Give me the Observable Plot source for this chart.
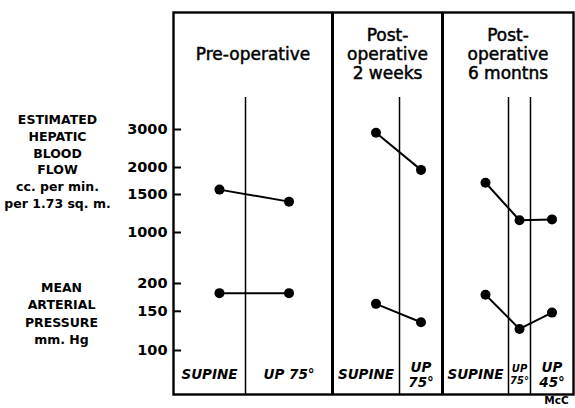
<!DOCTYPE html>
<html><head><meta charset="utf-8">
<script src="https://cdn.jsdelivr.net/npm/d3@7"></script>
<script src="https://cdn.jsdelivr.net/npm/@observablehq/plot@0.6"></script>
<style>
html,body{margin:0;padding:0;background:#fff;}
#chart{position:relative;width:575px;height:408px;}
#chart svg{position:absolute;left:0;top:0;}
</style></head><body><div id="chart"></div>
<script>
// ---- data ----
const conditions = ["Pre-operative", "Post-\noperative\n2 weeks", "Post-\noperative\n6 montns"];
const postures = ["SUPINE", "UP 75°", "SUPINE", "UP\n75°", "SUPINE", "UP\n75°", "UP\n45°"];
const postureCondition = [0, 0, 1, 1, 2, 2, 2];
const hepaticFlow = [1580, 1390, 2900, 1950, 1700, 1140, 1150];
const arterialPressure = [181, 181, 162, 134, 178, 125, 148];
const flowTicks = [1000, 1500, 2000, 3000];
const pressureTicks = [100, 150, 200];
const flowLabel = "ESTIMATED\nHEPATIC\nBLOOD\nFLOW\ncc. per min.\nper 1.73 sq. m.";
const pressureLabel = "MEAN\nARTERIAL\nPRESSURE\nmm. Hg";
const credit = "McC";

// ---- layout ----
const W = 575, H = 408;
const mL = 173, mR = 2, boxTop = 12, boxBottom = 394;
const colWidths = [72, 87, 67, 43, 66, 22, 43];
const inner = colWidths.reduce((a, b) => a + b, 0);
const colStart = colWidths.map((w, i) => colWidths.slice(0, i).reduce((a, b) => a + b, 0));
const colCenter = colStart.map((s, i) => s + colWidths[i] / 2);
const px = v => v - mL; // pixel x -> x units (1 unit = 1 px)
const sectionEdges = [], thinEdges = [];
for (let i = 1; i < colWidths.length; i++) {
  (postureCondition[i] !== postureCondition[i - 1] ? sectionEdges : thinEdges).push(colStart[i]);
}
const sectionCenter = conditions.map((c, k) => {
  const idx = postureCondition.map((p, i) => p === k ? i : -1).filter(i => i >= 0);
  const a = colStart[idx[0]], b = colStart[idx[idx.length - 1]] + colWidths[idx[idx.length - 1]];
  return (a + b) / 2;
});
const dotX = postures.map((p, i) => colCenter[i] + (p === "SUPINE" ? 10 : 0));
const records = postures.map((p, i) => ({cond: postureCondition[i], x: dotX[i], flow: hepaticFlow[i], pressure: arterialPressure[i]}));

const sans = "DejaVu Sans, sans-serif";
const common = {
  width: W, height: H, marginLeft: mL, marginRight: mR, marginTop: boxTop, marginBottom: H - boxBottom,
  x: {domain: [0, inner], axis: null}
};
const chart = document.getElementById("chart");

// base: frame, dividers, texts
const base = Plot.plot({
  ...common,
  y: {domain: [0, H], range: [0, H], axis: null},
  style: {background: "white", fontFamily: sans, color: "black"},
  marks: [
    Plot.frame({stroke: "black", strokeWidth: 2.4}),
    Plot.ruleX(sectionEdges, {y1: boxTop, y2: boxBottom, stroke: "black", strokeWidth: 3}),
    Plot.ruleX(thinEdges, {y1: 97, y2: boxBottom, stroke: "black", strokeWidth: 1.5}),
    Plot.text(conditions, {x: (d, i) => sectionCenter[i], y: 53, text: d => d, fontSize: 17, lineHeight: 1.12, fill: "black", stroke: "black", strokeWidth: 0.5, fontFamily: sans}),
    Plot.text(postures, {filter: (d, i) => i !== 5, x: (d, i) => colCenter[i], y: 374, text: d => d, fontSize: 13.5, fontWeight: "bold", fontStyle: "italic", lineHeight: 1.1, fill: "black", fontFamily: sans}),
    Plot.text(postures, {filter: (d, i) => i === 5, x: (d, i) => colCenter[i], y: 374, text: d => d, fontSize: 10, fontWeight: "bold", fontStyle: "italic", lineHeight: 1.15, fill: "black", fontFamily: sans}),
    Plot.text([flowLabel], {x: px(57), y: 160, text: d => d, fontSize: 12.5, fontWeight: "bold", lineHeight: 1.34, fill: "black", fontFamily: sans}),
    Plot.text([pressureLabel], {x: px(61), y: 312, text: d => d, fontSize: 12.5, fontWeight: "bold", lineHeight: 1.4, fill: "black", fontFamily: sans}),
    Plot.text([credit], {x: px(556), y: 400, text: d => d, fontSize: 10.5, fontWeight: "bold", fill: "black", fontFamily: sans})
  ]
});
chart.appendChild(base);

function panel(values, ticks, domain, range) {
  return Plot.plot({
    ...common,
    y: {type: "log", domain, range, axis: null},
    style: {background: "transparent", fontFamily: sans, color: "black"},
    marks: [
      Plot.ruleY(ticks, {x1: 0, x2: 8, stroke: "black", strokeWidth: 2}),
      Plot.axisY({ticks, label: null, tickSize: 0, tickPadding: 6, tickFormat: d => String(d), fontSize: 14.5, fontWeight: "bold", fontFamily: sans, fill: "black"}),
      Plot.line(records, {x: "x", y: values, z: "cond", stroke: "black", strokeWidth: 2}),
      Plot.dot(records, {x: "x", y: values, r: 5, fill: "black", stroke: "none"})
    ]
  });
}
chart.appendChild(panel("flow", flowTicks, [1000, 3000], [232, 129]));
chart.appendChild(panel("pressure", pressureTicks, [100, 200], [350, 283]));
</script></body></html>
